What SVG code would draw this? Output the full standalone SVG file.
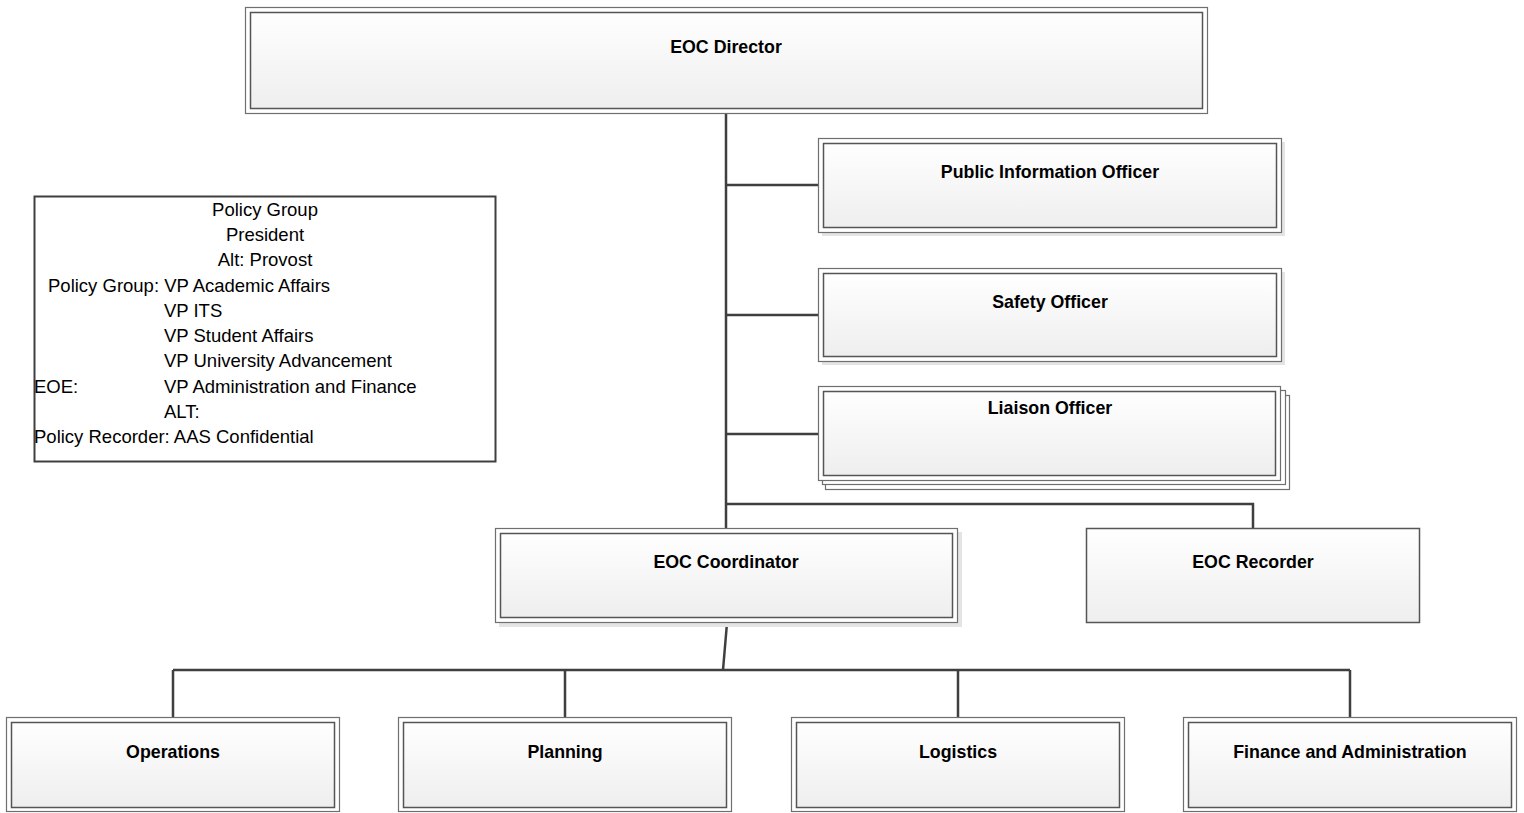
<svg xmlns="http://www.w3.org/2000/svg" width="1524" height="813" viewBox="0 0 1524 813">
<defs>
<linearGradient id="g" x1="0" y1="0" x2="0" y2="1">
<stop offset="0" stop-color="#ffffff"/>
<stop offset="1" stop-color="#eeeeee"/>
</linearGradient>
</defs>
<style>
.outer{fill:#ffffff;stroke:#6f6f6f;stroke-width:1.2}
.inner{fill:url(#g);stroke:#555555;stroke-width:1.5}
.shadow{fill:#e4e4e4}
.lbl{font-family:"Liberation Sans",Arial,sans-serif;font-weight:bold;font-size:17.8px;fill:#000;text-anchor:middle;dominant-baseline:central}
.pt{font-family:"Liberation Sans",Arial,sans-serif;font-size:18.5px;fill:#000;dominant-baseline:central}
.conn{fill:none;stroke:#3f3f3f;stroke-width:2.5}
</style>
<g id="connectors">
<path class="conn" d="M726,113 V528"/>
<path class="conn" d="M726,185 H818"/>
<path class="conn" d="M726,315 H818"/>
<path class="conn" d="M726,434 H818"/>
<path class="conn" d="M726,504 H1253 V528"/>
<path class="conn" d="M727,623 L723,670"/>
<path class="conn" d="M173,670 H1350"/>
<path class="conn" d="M173,670 V717 M565,670 V717 M958,670 V717 M1350,670 V717"/>
</g>
<g id="director">
<rect class="outer" x="245.5" y="7.5" width="962" height="106"/>
<rect class="inner" x="250.5" y="12.5" width="952" height="96"/>
<text class="lbl" x="726" y="47">EOC Director</text>
</g>
<g id="pio">
<rect class="shadow" x="822" y="142" width="463" height="94"/>
<rect class="outer" x="818.5" y="138.5" width="463" height="94"/>
<rect class="inner" x="823.5" y="143.5" width="453" height="84"/>
<text class="lbl" x="1050" y="172">Public Information Officer</text>
</g>
<g id="safety">
<rect class="shadow" x="822" y="272" width="463" height="93"/>
<rect class="outer" x="818.5" y="268.5" width="463" height="93"/>
<rect class="inner" x="823.5" y="273.5" width="453" height="83"/>
<text class="lbl" x="1050" y="302">Safety Officer</text>
</g>
<g id="liaison">
<rect class="outer" x="825.5" y="395.5" width="464" height="94"/>
<rect class="outer" x="822.5" y="390.5" width="463" height="94"/>
<rect class="outer" x="818.5" y="386.5" width="462" height="94"/>
<rect class="inner" x="823.5" y="391.5" width="452" height="84"/>
<text class="lbl" x="1050" y="408">Liaison Officer</text>
</g>
<g id="policy">
<rect x="34.5" y="196.5" width="461" height="265" fill="#ffffff" stroke="#3f3f3f" stroke-width="2"/>
<text class="pt" x="265" y="209" text-anchor="middle">Policy Group</text>
<text class="pt" x="265" y="234" text-anchor="middle">President</text>
<text class="pt" x="265" y="259" text-anchor="middle">Alt: Provost</text>
<text class="pt" x="48" y="285">Policy Group: VP Academic Affairs</text>
<text class="pt" x="164" y="310">VP ITS</text>
<text class="pt" x="164" y="335">VP Student Affairs</text>
<text class="pt" x="164" y="360">VP University Advancement</text>
<text class="pt" x="34" y="386">EOE:</text>
<text class="pt" x="164" y="386">VP Administration and Finance</text>
<text class="pt" x="164" y="411">ALT:</text>
<text class="pt" x="34" y="436">Policy Recorder: AAS Confidential</text>
</g>
<g id="coordinator">
<rect class="shadow" x="499" y="532" width="463" height="95"/>
<rect class="outer" x="495.5" y="528.5" width="462" height="94"/>
<rect class="inner" x="500.5" y="533.5" width="452" height="84"/>
<text class="lbl" x="726" y="562">EOC Coordinator</text>
</g>
<g id="recorder">
<rect class="inner" x="1086.5" y="528.5" width="333" height="94" stroke="#6f6f6f"/>
<text class="lbl" x="1253" y="562">EOC Recorder</text>
</g>
<g id="operations">
<rect class="outer" x="6.5" y="717.5" width="333" height="94"/>
<rect class="inner" x="11.5" y="722.5" width="323" height="85"/>
<text class="lbl" x="173" y="752">Operations</text>
</g>
<g id="planning">
<rect class="outer" x="398.5" y="717.5" width="333" height="94"/>
<rect class="inner" x="403.5" y="722.5" width="323" height="85"/>
<text class="lbl" x="565" y="752">Planning</text>
</g>
<g id="logistics">
<rect class="outer" x="791.5" y="717.5" width="333" height="94"/>
<rect class="inner" x="796.5" y="722.5" width="323" height="85"/>
<text class="lbl" x="958" y="752">Logistics</text>
</g>
<g id="finance">
<rect class="outer" x="1183.5" y="717.5" width="333" height="94"/>
<rect class="inner" x="1188.5" y="722.5" width="323" height="85"/>
<text class="lbl" x="1350" y="752">Finance and Administration</text>
</g>
</svg>
